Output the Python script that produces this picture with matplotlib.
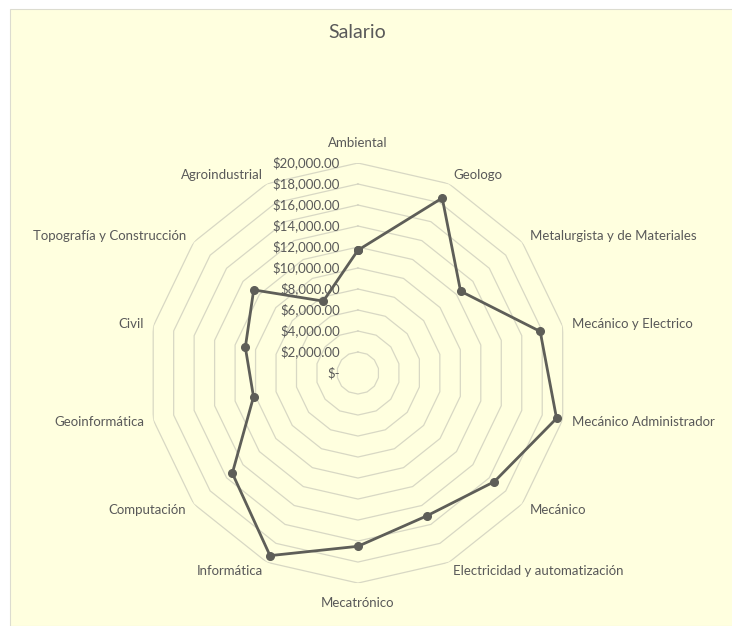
"""Gráfico radial de salarios por carrera."""

import numpy as np
import matplotlib
matplotlib.use("Agg")
import matplotlib.pyplot as plt  # noqa: E402
from matplotlib.patches import Rectangle  # noqa: E402
from matplotlib.transforms import offset_copy  # noqa: E402

plt.rcParams["font.family"] = ["Lato", "DejaVu Sans"]

carreras = [
    "Ambiental", "Geologo", "Metalurgista y de Materiales",
    "Mecánico y Electrico", "Mecánico Administrador", "Mecánico",
    "Electricidad y automatización", "Mecatrónico", "Informática",
    "Computación", "Geoinformática", "Civil",
    "Topografía y Construcción", "Agroindustrial",
]
salario = [11700, 18500, 12500, 17800, 19400, 16600, 15100,
           16500, 19300, 15300, 10200, 11000, 12700, 7600]
niveles = [0, 2000, 4000, 6000, 8000, 10000, 12000, 14000, 16000,
           18000, 20000]
etiquetas_nivel = ["$-", "$2,000.00", "$4,000.00", "$6,000.00",
                   "$8,000.00", "$10,000.00", "$12,000.00", "$14,000.00",
                   "$16,000.00", "$18,000.00", "$20,000.00"]

TXT = "#595959"
GRID = "#d8d8c4"
LINEA = "#5e5e58"
FONDO = "#ffffdf"

fig = plt.figure(figsize=(7.32, 6.26), dpi=100)
fig.patches.append(Rectangle((10 / 732, 0), 1, 617 / 626,
                             transform=fig.transFigure, facecolor=FONDO,
                             edgecolor="#dcdcd0", lw=0.8, zorder=-1))

ax = fig.add_axes([0.202, 0.0686, 0.574, 0.671], projection="polar")
ax.set_facecolor("none")
ax.set_theta_zero_location("N")
ax.set_theta_direction(-1)
ax.set_ylim(0, max(niveles))
ax.grid(False)
ax.set_xticks([])
ax.set_yticks([])
ax.spines["polar"].set_visible(False)

n = len(carreras)
ang = np.linspace(0, 2 * np.pi, n, endpoint=False)
ang_c = np.append(ang, ang[0])

# anillos poligonales
for v in niveles[1:]:
    ax.plot(ang_c, [v] * (n + 1), color=GRID, lw=0.9, zorder=1)

# etiquetas del eje radial
off = offset_copy(ax.transData, fig=fig, x=-18, y=0, units="dots")
for v, t in zip(niveles, etiquetas_nivel):
    ax.text(0, v, t, transform=off, ha="right", va="center",
            fontsize=9.5, color=TXT, zorder=2)

# serie
vals = salario + salario[:1]
ax.plot(ang_c, vals, color=LINEA, lw=2.0, marker="o", markersize=5.5,
        zorder=3, clip_on=False)

# etiquetas de categorías
rmax = max(niveles)
for a, c in zip(ang, carreras):
    s = np.sin(a)
    if abs(s) < 1e-6:
        ax.text(a, rmax * 1.095, c, ha="center", va="center",
                fontsize=9.5, color=TXT)
    else:
        ax.text(a, rmax * 1.045, c, ha="left" if s > 0 else "right",
                va="center", fontsize=9.5, color=TXT)

fig.text(0.488, 1 - 33 / 626, "Salario", ha="center", va="center",
         fontsize=14, color=TXT)

fig.savefig("out.png", dpi=100)
